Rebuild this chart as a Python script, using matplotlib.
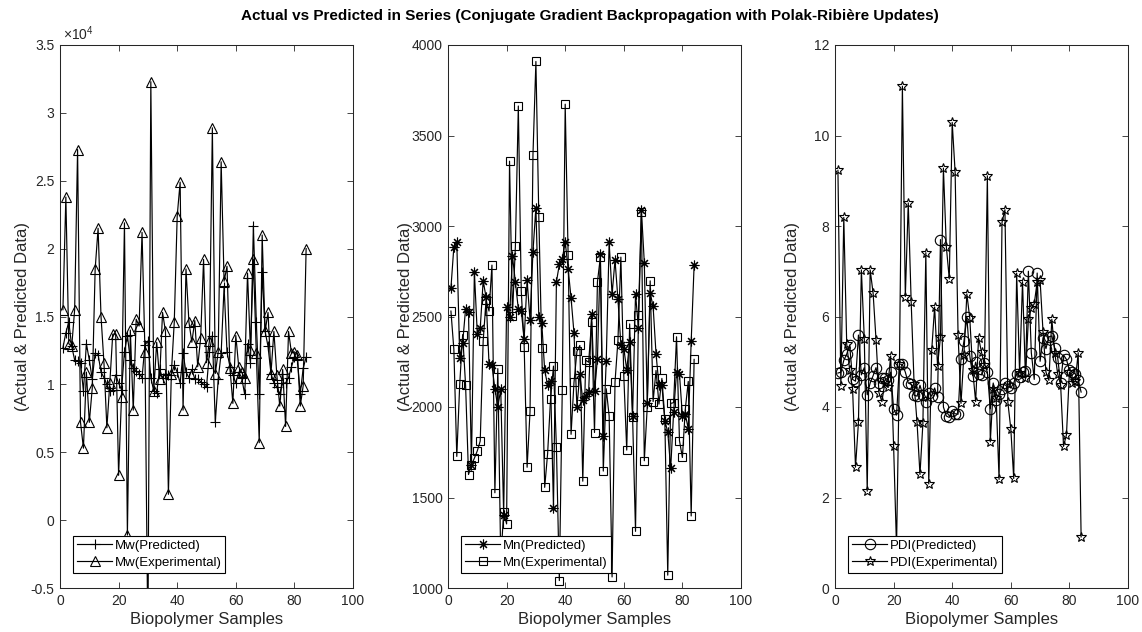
import numpy as np
import matplotlib.pyplot as plt
from matplotlib.ticker import FuncFormatter

plt.rcParams['font.family'] = ['Liberation Sans', 'DejaVu Sans']
plt.rcParams['mathtext.fontset'] = 'custom'
plt.rcParams['mathtext.rm'] = 'Liberation Sans'

samples = np.arange(1, 85)

mw_pred = [12700, 13800, 14600, 12800, 11800, 11700, 11600, 9500, 13000, 11800,
           10400, 12300, 12200, 10900, 10500, 10000, 9500, 9600, 10700, 10100,
           9600, 12400, 13600, 11800, 11200, 11000, 10800, 10500, 12900, 13200,
           10500, 9500, 9400, 11100, 10500, 10800, 10700, 10700, 11400, 10900,
           10100, 12300, 10900, 10500, 11100, 10400, 10400, 10200, 10000, 9800,
           12400, 13600, 7200, 10400, 12300, 17200, 12400, 11300, 10700, 10100,
           10900, 10500, 9300, 13000, 11600, 21700, 14600, 9300, 18300, 13900,
           12800, 10800, 10100, 9800, 9300, 10100, 10100, 10500, 11300, 12000,
           11900, 9300, 11200, 12000]
mw_exp = [15500, 23800, 13000, 12800, 15500, 27300, 7200, 5300, 10900, 7200,
          9700, 18500, 21500, 15000, 11600, 6800, 10100, 13700, 13700, 3300,
          9100, 21900, -1100, 14000, 8100, 14800, 14300, 21200, 12400, -9000,
          32300, 9500, 13100, 10400, 15300, 13900, 1900, 10800, 14600, 22400,
          24900, 8100, 18500, 14600, 13100, 14700, 11300, 13400, 19200, 11600,
          13200, 28900, 10800, 12400, 26400, 17600, 18700, 11200, 8600, 13600,
          11300, 10900, 10500, 18200, 12500, 19200, 12300, 5700, 21000, 13900,
          15300, 10800, 13900, 10700, 8400, 11100, 6900, 13900, 12300, 12400,
          12200, 8400, 9900, 20000]

mn_pred = [2657, 2885, 2913, 2273, 2354, 2542, 2525, 1681, 2748, 2404,
           2434, 2697, 2606, 2238, 2232, 2101, 2000, 2097, 1404, 2555,
           2495, 2834, 2690, 2542, 2530, 2378, 2701, 2479, 2859, 3101,
           2495, 2465, 2202, 2121, 2141, 1444, 2691, 2788, 2818, 2913,
           2764, 2602, 2408, 2000, 2182, 2036, 2060, 2081, 2515, 2091,
           2263, 2845, 1838, 2253, 2909, 2622, 2812, 2596, 2344, 2323,
           2206, 2358, 1950, 2626, 2434, 3091, 2798, 2020, 2630, 2556,
           2293, 2121, 2121, 1923, 1863, 1661, 1970, 2192, 2182, 1950,
           1960, 1879, 2364, 2784]
mn_exp = [2530, 2318, 1727, 2125, 2400, 2121, 1627, 1680, 1717, 1758,
          1812, 2364, 2590, 2530, 2784, 1526, 2212, 1150, 1420, 1354,
          3358, 2505, 2889, 3663, 2643, 2334, 1667, 1976, 3394, 3909,
          3047, 2327, 1556, 1743, 2044, 2226, 1778, 1041, 2095, 3673,
          2838, 1849, 2136, 2307, 2340, 1590, 2259, 2247, 2471, 1859,
          2691, 2828, 1646, 2101, 1950, 1061, 2137, 2368, 2828, 2172,
          1762, 2459, 1945, 1313, 2509, 3077, 1703, 2000, 2697, 2030,
          2202, 2016, 2158, 1933, 1071, 2020, 2024, 2388, 1814, 1721,
          1990, 2141, 1398, 2263]

pdi_pred = [4.75, 4.77, 5.03, 5.17, 5.37, 4.61, 4.57, 5.59, 4.71, 4.87,
            4.27, 4.53, 4.69, 4.87, 4.53, 4.65, 4.65, 4.60, 4.77, 3.96,
            3.82, 4.95, 4.94, 4.77, 4.53, 4.50, 4.26, 4.24, 4.48, 4.26,
            4.12, 4.31, 4.24, 4.42, 4.22, 7.70, 4.00, 3.80, 3.77, 3.92,
            3.85, 3.84, 5.07, 5.45, 5.98, 5.13, 4.69, 4.99, 4.73, 4.71,
            4.97, 4.77, 3.96, 4.53, 4.16, 4.28, 4.40, 4.54, 4.47, 4.42,
            4.53, 4.73, 4.66, 4.77, 4.80, 7.00, 5.20, 4.61, 6.96, 5.01,
            5.53, 5.29, 5.55, 5.57, 5.30, 5.09, 4.53, 5.15, 5.05, 4.81,
            4.77, 4.73, 4.60, 4.33]
pdi_exp = [9.23, 4.47, 8.19, 5.39, 4.82, 4.40, 2.67, 3.66, 7.03, 5.51,
           2.14, 7.03, 6.52, 5.49, 4.32, 4.12, 4.53, 4.44, 5.13, 3.14,
           0.90, 4.95, 11.09, 6.44, 8.51, 6.32, 4.50, 3.66, 2.51, 3.64,
           7.41, 2.30, 5.25, 6.21, 4.91, 5.55, 9.28, 7.54, 6.83, 10.29,
           9.19, 5.60, 4.08, 5.16, 6.50, 5.96, 4.81, 4.12, 5.53, 5.21,
           4.93, 9.11, 3.23, 4.40, 4.20, 2.40, 8.08, 8.36, 4.10, 3.52,
           2.42, 6.96, 4.75, 6.77, 4.65, 5.94, 6.18, 6.28, 6.77, 6.80,
           5.66, 4.77, 4.59, 5.94, 5.20, 4.73, 4.49, 3.13, 3.39, 4.77,
           4.53, 4.57, 5.20, 1.13]

W, H = 1142, 632
fig = plt.figure(figsize=(W / 100, H / 100), dpi=100)
axc = '#262626'

# left px, predicted, experimental, markers (pred, exp), marker sizes, labels, y range, y ticks, ylabel x
panels = [
    (60, mw_pred, mw_exp, '+', '^', 7, 7, 'Mw(Predicted)', 'Mw(Experimental)',
     (-5000, 35000), np.arange(-5000, 35001, 5000), -0.102),
    (448, mn_pred, mn_exp, (8, 2, 0), 's', 7, 5.5, 'Mn(Predicted)', 'Mn(Experimental)',
     (1000, 4000), np.arange(1000, 4001, 500), -0.119),
    (835, pdi_pred, pdi_exp, 'o', '*', 7.5, 7, 'PDI(Predicted)', 'PDI(Experimental)',
     (0, 12), np.arange(0, 13, 2), -0.119),
]

for left, pred, exp, m1, m2, ms1, ms2, l1, l2, ylim, yt, ylx in panels:
    ax = fig.add_axes([left / W, 44 / H, 293 / W, 543 / H])
    ax.plot(samples, pred, color='k', lw=0.85, marker=m1, ms=ms1, mfc='none', mec='k', mew=0.8, label=l1)
    ax.plot(samples, exp, color='k', lw=0.85, marker=m2, ms=ms2, mfc='none', mec='k', mew=0.8, label=l2)
    ax.set_xlim(0, 100)
    ax.set_ylim(*ylim)
    ax.set_xticks(np.arange(0, 101, 20))
    ax.set_yticks(yt)
    ax.tick_params(direction='in', top=True, right=True, length=4, width=0.6,
                   labelsize=10, colors=axc, pad=4)
    for s in ax.spines.values():
        s.set_color(axc)
        s.set_linewidth(0.75)
    ax.set_xlabel('Biopolymer Samples', fontsize=12, color=axc)
    ax.xaxis.set_label_coords(0.5, -0.045)
    ax.set_ylabel('(Actual & Predicted Data)', fontsize=12, color=axc)
    ax.yaxis.set_label_coords(ylx, 0.5)
    leg = ax.legend(loc='lower left', bbox_to_anchor=(0.044, 0.028), borderaxespad=0,
                    fancybox=False, framealpha=1, edgecolor='k', fontsize=9.5,
                    handlelength=2.7, handletextpad=0.15, labelspacing=0.35,
                    borderpad=0.3)
    leg.get_frame().set_linewidth(0.8)
    if left == 60:
        ax.yaxis.set_major_formatter(FuncFormatter(lambda v, p: '%g' % (v / 1e4)))
        ax.text(0.01, 1.004, r'$\times\mathregular{10^{4}}$', transform=ax.transAxes,
                fontsize=10, color=axc, va='bottom', ha='left')

fig.text(590 / W, 1 - 16 / H,
         'Actual vs Predicted in Series (Conjugate Gradient Backpropagation with Polak-Ribière Updates)',
         ha='center', va='center', fontsize=11, fontweight='bold', color='k')

fig.savefig('out.png', dpi=100)
